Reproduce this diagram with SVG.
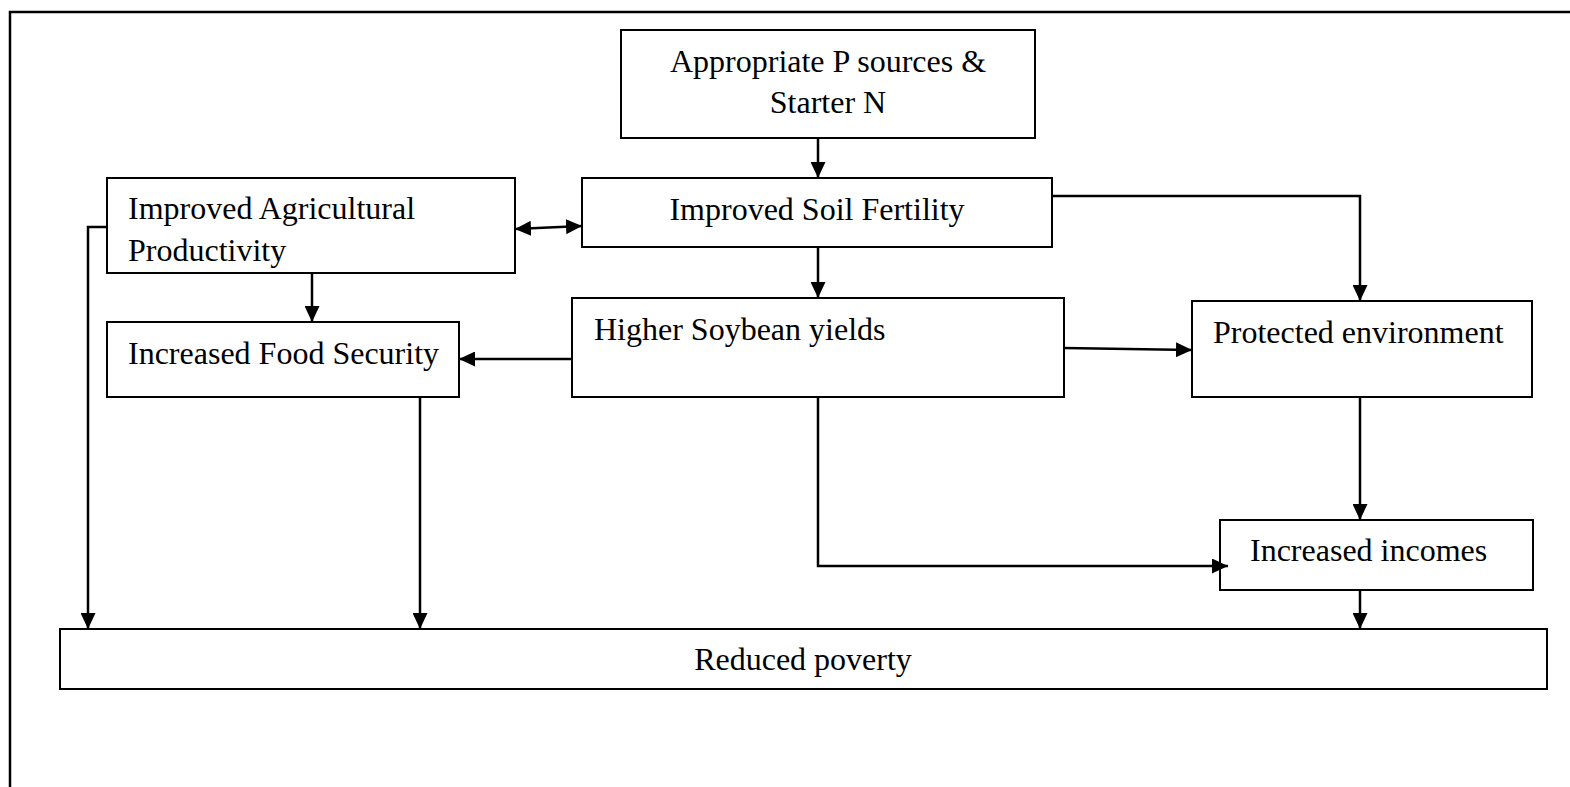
<svg xmlns="http://www.w3.org/2000/svg" width="1570" height="787" viewBox="0 0 1570 787">
<style>
.box{fill:#fff;stroke:#000;stroke-width:2}
.t{font-family:"Liberation Serif","Times New Roman",serif;font-size:32px;fill:#000}
.c{text-anchor:middle}
.ln{fill:none;stroke:#000;stroke-width:2.5}
</style>
<defs>
<marker id="ah" viewBox="0 0 16 15" refX="16" refY="7.5" markerWidth="16" markerHeight="15" markerUnits="userSpaceOnUse" orient="auto-start-reverse">
<path d="M0,0 L16,7.5 L0,15 Z" fill="#000"/>
</marker>
</defs>
<rect x="0" y="0" width="1570" height="787" fill="#fff"/>
<rect x="10" y="12" width="1600" height="800" fill="none" stroke="#000" stroke-width="2.5"/>
<g id="n-appropriate"><rect class="box" x="621" y="30" width="414" height="108"/><text class="t c" x="828" y="72">Appropriate P sources &amp;</text><text class="t c" x="828" y="113">Starter N</text></g>
<g id="n-soil"><rect class="box" x="582" y="178" width="470" height="69"/><text class="t c" x="817" y="220">Improved Soil Fertility</text></g>
<g id="n-agri"><rect class="box" x="107" y="178" width="408" height="95"/><text class="t" x="128" y="219">Improved Agricultural</text><text class="t" x="128" y="261">Productivity</text></g>
<g id="n-food"><rect class="box" x="107" y="322" width="352" height="75"/><text class="t" x="128" y="364">Increased Food Security</text></g>
<g id="n-soybean"><rect class="box" x="572" y="298" width="492" height="99"/><text class="t" x="594" y="340">Higher Soybean yields</text></g>
<g id="n-env"><rect class="box" x="1192" y="301" width="340" height="96"/><text class="t" x="1213" y="343">Protected environment</text></g>
<g id="n-incomes"><rect class="box" x="1220" y="520" width="313" height="70"/><text class="t" x="1250" y="561">Increased incomes</text></g>
<g id="n-poverty"><rect class="box" x="60" y="629" width="1487" height="60"/><text class="t c" x="803" y="670">Reduced poverty</text></g>
<g id="connectors">
<path class="ln" d="M818,138 V178" marker-end="url(#ah)"/>
<path class="ln" d="M515,229 L582,226" marker-start="url(#ah)" marker-end="url(#ah)"/>
<path class="ln" d="M1052,196 H1360 V301" marker-end="url(#ah)"/>
<path class="ln" d="M818,247 V298" marker-end="url(#ah)"/>
<path class="ln" d="M312,273 V322" marker-end="url(#ah)"/>
<path class="ln" d="M572,359 H459" marker-end="url(#ah)"/>
<path class="ln" d="M1064,348 L1192,350" marker-end="url(#ah)"/>
<path class="ln" d="M1360,397 V520" marker-end="url(#ah)"/>
<path class="ln" d="M818,397 V566 H1228" marker-end="url(#ah)"/>
<path class="ln" d="M1360,590 V629" marker-end="url(#ah)"/>
<path class="ln" d="M107,227 H88 V629" marker-end="url(#ah)"/>
<path class="ln" d="M420,397 V629" marker-end="url(#ah)"/>
</g>
</svg>
